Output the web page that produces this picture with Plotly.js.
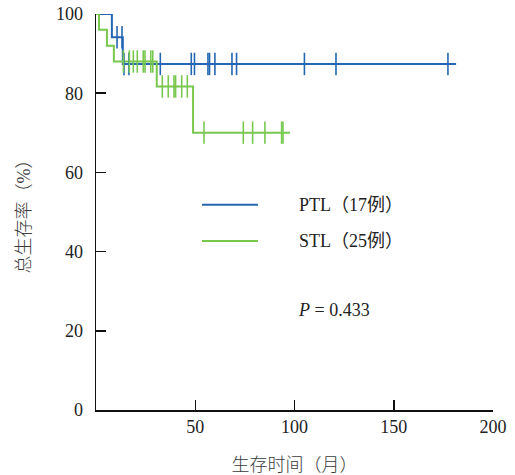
<!DOCTYPE html>
<html>
<head>
<meta charset="utf-8">
<script src="https://cdn.plot.ly/plotly-3.0.1.min.js"></script>
<style>html,body{margin:0;padding:0;background:#fff;}#chart{width:515px;height:475px;}</style>
</head>
<body>
<div id="chart"></div>
<script>
// Kaplan-Meier step data
var ptlStepTimes = [0, 8, 13.5, 181.4];
var ptlStepSurv  = [100, 94.12, 87.39, 87.39];
var ptlCensorTimes = [10.6, 13.1, 14.1, 16.6, 32.4, 48.0, 49.6, 56.4, 57.2, 59.9, 68.5, 70.8, 105, 120.9, 177.3];

var stlStepTimes = [0, 1.5, 5.5, 9, 30.6, 48.9, 97.7];
var stlStepSurv  = [100, 96, 92, 88, 81.71, 70.04, 70.04];
var stlCensorTimes = [13.8, 16.8, 18.8, 20.8, 23.8, 24.7, 27.6, 28.6,
                      33.4, 36.4, 39.3, 40.1, 43.2, 46.0,
                      54.4, 74.2, 78.9, 85.1, 93.5, 94.2];

var xTicks = [50, 100, 150, 200];
var yTicks = [0, 20, 40, 60, 80, 100];
var seriesNames = ['PTL（17例）', 'STL（25例）'];
var pText = '<i>P</i> = 0.433';
var xTitle = '生存时间（月）';
var yTitle = '总生存率（%）';

var blue = '#2466b4';
var green = '#78c84e';
var fontFam = 'Liberation Serif, "Noto Sans CJK SC", serif';

function levelAt(times, surv, t) {
  var s = surv[0];
  for (var i = 0; i < times.length; i++) { if (times[i] <= t) s = surv[i]; }
  return s;
}
function censorY(times, surv, cts) { return cts.map(function(t){ return levelAt(times, surv, t); }); }

var traces = [
  {x: ptlStepTimes, y: ptlStepSurv, mode: 'lines', line: {shape: 'hv', color: blue, width: 2}, showlegend: false, hoverinfo: 'skip'},
  {x: stlStepTimes, y: stlStepSurv, mode: 'lines', line: {shape: 'hv', color: green, width: 2}, showlegend: false, hoverinfo: 'skip'},
  {x: ptlCensorTimes, y: censorY(ptlStepTimes, ptlStepSurv, ptlCensorTimes), mode: 'markers', cliponaxis: false,
   marker: {symbol: 'line-ns', size: 16, line: {color: blue, width: 1.6}}, showlegend: false, hoverinfo: 'skip'},
  {x: stlCensorTimes, y: censorY(stlStepTimes, stlStepSurv, stlCensorTimes), mode: 'markers', cliponaxis: false,
   marker: {symbol: 'line-ns', size: 16, line: {color: green, width: 1.6}}, showlegend: false, hoverinfo: 'skip'}
];

var layout = {
  width: 515, height: 475,
  margin: {l: 96, r: 22, t: 14, b: 65},
  paper_bgcolor: '#fff', plot_bgcolor: '#fff',
  font: {family: fontFam, size: 18, color: '#222'},
  showlegend: false,
  xaxis: {
    range: [0, 200], tickvals: xTicks, ticktext: xTicks.map(String),
    ticks: 'inside', ticklen: 10, tickwidth: 1.5, tickcolor: '#111',
    showline: true, linecolor: '#111', linewidth: 1.5,
    showgrid: false, zeroline: false, fixedrange: true,
    tickfont: {family: fontFam, size: 18, color: '#222'},
    title: {text: xTitle, font: {family: fontFam, size: 18, color: '#3a3a3a', weight: 300}, standoff: 22}
  },
  yaxis: {
    range: [0, 100], tickvals: yTicks, ticktext: yTicks.map(String),
    ticks: 'inside', ticklen: 10, tickwidth: 1.5, tickcolor: '#111',
    showline: true, linecolor: '#111', linewidth: 1.5,
    showgrid: false, zeroline: false, fixedrange: true,
    ticklabelstandoff: 8,
    tickfont: {family: fontFam, size: 18, color: '#222'},
    title: {text: yTitle, font: {family: fontFam, size: 18, color: '#3a3a3a', weight: 300}, standoff: 20}
  },
  shapes: [
    {type: 'line', xref: 'x', yref: 'y', x0: 53.4, x1: 81.6, y0: 51.8, y1: 51.8, line: {color: blue, width: 2}},
    {type: 'line', xref: 'x', yref: 'y', x0: 53.4, x1: 81.6, y0: 42.7, y1: 42.7, line: {color: green, width: 2}}
  ],
  annotations: [
    {x: 101.3, y: 51.8, xref: 'x', yref: 'y', text: seriesNames[0], showarrow: false, xanchor: 'left', yanchor: 'middle', font: {family: fontFam, size: 18, color: '#222'}},
    {x: 101.3, y: 42.7, xref: 'x', yref: 'y', text: seriesNames[1], showarrow: false, xanchor: 'left', yanchor: 'middle', font: {family: fontFam, size: 18, color: '#222'}},
    {x: 100.8, y: 25.3, xref: 'x', yref: 'y', text: pText, showarrow: false, xanchor: 'left', yanchor: 'middle', font: {family: fontFam, size: 18, color: '#222'}}
  ]
};

Plotly.newPlot('chart', traces, layout, {displayModeBar: false, staticPlot: true});
</script>
</body>
</html>
